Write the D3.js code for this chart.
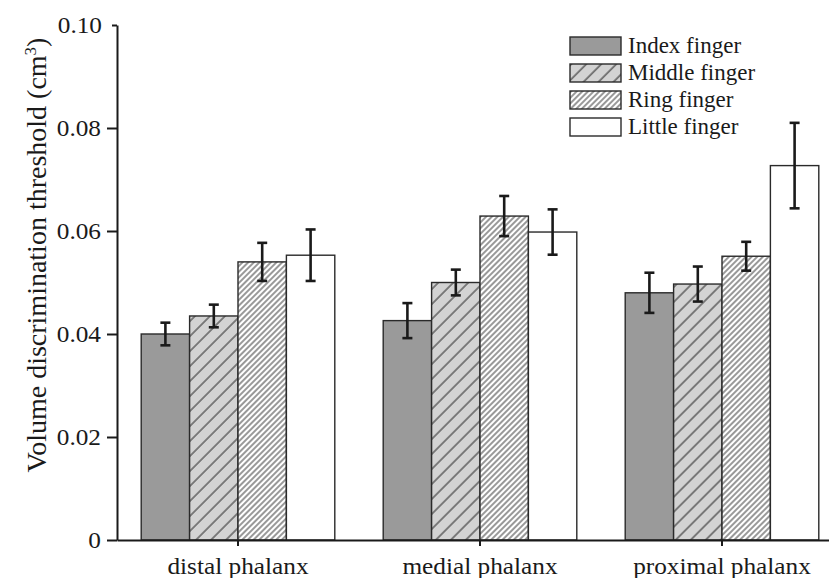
<!DOCTYPE html>
<html>
<head>
<meta charset="utf-8">
<script src="https://cdn.jsdelivr.net/npm/d3@7"></script>
<style>
  html, body { margin: 0; padding: 0; background: #fff; }
  svg { display: block; }
  text { font-family: "Liberation Serif", "Times New Roman", serif; fill: #1a1a1a; }
</style>
</head>
<body>
<svg id="chart" width="829" height="578"></svg>
<script>
// Phalanx regions on the x axis
const regions = ["distal phalanx", "medial phalanx", "proximal phalanx"];
// Fingers (one bar per finger inside each region)
const fingers = ["Index finger", "Middle finger", "Ring finger", "Little finger"];

// Mean volume discrimination threshold (cm³), per finger, in region order
const indexMean  = [0.0400, 0.0426, 0.0480];
const middleMean = [0.0435, 0.0500, 0.0497];
const ringMean   = [0.0540, 0.0629, 0.0551];
const littleMean = [0.0553, 0.0598, 0.0727];

// Standard errors, same layout
const indexErr  = [0.0022, 0.0034, 0.0039];
const middleErr = [0.0022, 0.0025, 0.0034];
const ringErr   = [0.0037, 0.0039, 0.0028];
const littleErr = [0.0050, 0.0044, 0.0083];

const yTicks = [0, 0.02, 0.04, 0.06, 0.08, 0.10];
const yTickLabels = ["0", "0.02", "0.04", "0.06", "0.08", "0.10"];

const means = [indexMean, middleMean, ringMean, littleMean];
const errs = [indexErr, middleErr, ringErr, littleErr];

const rows = [];
regions.forEach((r, ri) => {
  fingers.forEach((f, fi) => {
    rows.push({ region: r, finger: f, fi, mean: means[fi][ri], err: errs[fi][ri] });
  });
});

const svg = d3.select("#chart");
const plotLeft = 117, plotBottom = 540, plotTop = 25;

const x0 = d3.scaleBand().domain(regions).range([plotLeft, 843]).paddingInner(0.2).paddingOuter(0.1);
const x1 = d3.scaleBand().domain(fingers).range([0, x0.bandwidth()]);
const y = d3.scaleLinear().domain([0, 0.10]).range([plotBottom, plotTop]);

// Fill patterns
const defs = svg.append("defs");
const pMid = defs.append("pattern").attr("id", "hatchMiddle")
  .attr("patternUnits", "userSpaceOnUse").attr("width", 10.6).attr("height", 10.6)
  .attr("patternTransform", "rotate(45)");
pMid.append("rect").attr("width", 10.6).attr("height", 10.6).attr("fill", "#d3d3d3");
pMid.append("line").attr("x1", 1).attr("x2", 1).attr("y1", 0).attr("y2", 10.6)
  .attr("stroke", "#333").attr("stroke-width", 1.1);

const pRing = defs.append("pattern").attr("id", "hatchRing")
  .attr("patternUnits", "userSpaceOnUse").attr("width", 4).attr("height", 4)
  .attr("patternTransform", "rotate(45)");
pRing.append("rect").attr("width", 4).attr("height", 4).attr("fill", "#ffffff");
pRing.append("line").attr("x1", 1).attr("x2", 1).attr("y1", 0).attr("y2", 4)
  .attr("stroke", "#333").attr("stroke-width", 1);

const fills = ["#9a9a9a", "url(#hatchMiddle)", "url(#hatchRing)", "#ffffff"];

// Bars
svg.append("g").selectAll("rect").data(rows).join("rect")
  .attr("x", d => x0(d.region) + x1(d.finger))
  .attr("width", x1.bandwidth())
  .attr("y", d => y(d.mean))
  .attr("height", d => y(0) - y(d.mean))
  .attr("fill", d => fills[d.fi])
  .attr("stroke", "#2a2a2a")
  .attr("stroke-width", 1.4);

// Error bars
const eb = svg.append("g").attr("stroke", "#1a1a1a").attr("stroke-width", 2.6);
rows.forEach(d => {
  const cx = x0(d.region) + x1(d.finger) + x1.bandwidth() / 2;
  const yt = y(d.mean + d.err), yb = y(d.mean - d.err);
  eb.append("line").attr("x1", cx).attr("x2", cx).attr("y1", yt).attr("y2", yb);
  eb.append("line").attr("x1", cx - 5).attr("x2", cx + 5).attr("y1", yt).attr("y2", yt);
  eb.append("line").attr("x1", cx - 5).attr("x2", cx + 5).attr("y1", yb).attr("y2", yb);
});

// Slightly widened lettering for axis labels
function widen(sel, k) {
  sel.each(function () {
    const w = this.getComputedTextLength();
    d3.select(this).attr("textLength", w * k).attr("lengthAdjust", "spacingAndGlyphs");
  });
}

// Axes
const yAxis = svg.append("g").attr("transform", `translate(${plotLeft},0)`)
  .call(d3.axisLeft(y).tickValues(yTicks).tickFormat((d, i) => yTickLabels[i])
    .tickSize(10).tickSizeOuter(0).tickPadding(6));
yAxis.select(".domain").attr("stroke", "#1a1a1a").attr("stroke-width", 2);
yAxis.selectAll(".tick line").attr("stroke", "#1a1a1a").attr("stroke-width", 2);
yAxis.selectAll(".tick").filter(d => d === 0.10).select("line").attr("x2", -5);
yAxis.selectAll(".tick").filter(d => d === 0.10).select("text").attr("x", -15);
yAxis.selectAll("text").attr("font-size", 23);
widen(yAxis.selectAll("text"), 1.1);

const xAxis = svg.append("g").attr("transform", `translate(0,${plotBottom})`)
  .call(d3.axisBottom(x0).tickSize(6).tickSizeOuter(0).tickPadding(12));
xAxis.select(".domain").attr("stroke", "#1a1a1a").attr("stroke-width", 2);
xAxis.selectAll(".tick line").attr("stroke", "#1a1a1a").attr("stroke-width", 2);
xAxis.selectAll("text").attr("font-size", 23);
widen(xAxis.selectAll("text"), 1.1);

// Y axis title
const yTitle = svg.append("text")
  .attr("transform", "translate(46,255) rotate(-90)")
  .attr("text-anchor", "middle")
  .attr("font-size", 28);
yTitle.append("tspan").text("Volume discrimination threshold (cm");
yTitle.append("tspan").attr("dy", -10).attr("font-size", 17).text("3");
yTitle.append("tspan").attr("dy", 10).text(")");

// Legend
const legend = svg.append("g").attr("transform", "translate(570,37)");
fingers.forEach((f, i) => {
  const g = legend.append("g").attr("transform", `translate(0,${i * 27})`);
  g.append("rect").attr("width", 51).attr("height", 18)
    .attr("fill", fills[i]).attr("stroke", "#2a2a2a").attr("stroke-width", 1.4);
  g.append("text").attr("x", 58).attr("y", 16).attr("font-size", 23).text(f);
});
</script>
</body>
</html>
